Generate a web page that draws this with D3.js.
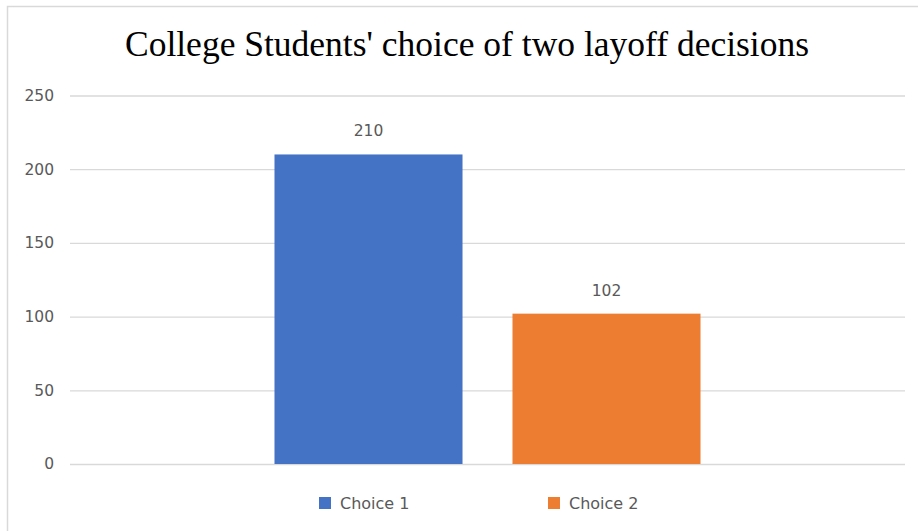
<!DOCTYPE html>
<html>
<head>
<meta charset="utf-8">
<script src="https://cdn.jsdelivr.net/npm/d3@7"></script>
<style>
  html, body { margin: 0; padding: 0; background: #fff; }
  svg { display: block; }
</style>
</head>
<body>
<svg id="chart" width="918" height="531"></svg>
<script>
const title = "College Students' choice of two layoff decisions";
const categories = [""];
const seriesNames = ["Choice 1", "Choice 2"];
const seriesValues = [210, 102];
const seriesColors = ["#4472C4", "#ED7D31"];
const yTicks = [0, 50, 100, 150, 200, 250];

const W = 918, H = 531;
const svg = d3.select("#chart");

// chart frame border
svg.append("path")
  .attr("d", `M7.5,${H} L7.5,6.5 L${W},6.5`)
  .attr("fill", "none")
  .attr("stroke", "#d9d9d9")
  .attr("stroke-width", 1.5);

const plot = { left: 70, right: 905, top: 95.5, bottom: 464 };

const y = d3.scaleLinear().domain([0, 250]).range([plot.bottom, plot.top]);
const x0 = d3.scaleBand().domain(categories).range([plot.left, plot.right])
  .paddingInner(0).paddingOuter(0.48);
const x1 = d3.scaleBand().domain(seriesNames).range([0, x0.bandwidth()])
  .paddingInner(0.21).paddingOuter(0);
const color = d3.scaleOrdinal().domain(seriesNames).range(seriesColors);

// gridlines + tick labels via axis
const yAxis = d3.axisLeft(y).tickValues(yTicks)
  .tickSize(-(plot.right - plot.left)).tickPadding(16).tickFormat(d3.format("d"));
const gAxis = svg.append("g").attr("transform", `translate(${plot.left},0)`).call(yAxis);
gAxis.select(".domain").remove();
gAxis.selectAll(".tick line").attr("stroke", "#d9d9d9").attr("stroke-width", 1.3);
gAxis.selectAll(".tick text")
  .attr("fill", "#595959")
  .attr("font-family", "DejaVu Sans, Verdana, sans-serif")
  .attr("font-size", 15.5);

// bars
const data = seriesNames.map((s, i) => ({ cat: categories[0], name: s, value: seriesValues[i] }));
const g = svg.append("g");
g.selectAll("rect").data(data).enter().append("rect")
  .attr("x", d => x0(d.cat) + x1(d.name))
  .attr("y", d => y(d.value))
  .attr("width", x1.bandwidth())
  .attr("height", d => y(0) - y(d.value))
  .attr("fill", d => color(d.name));

// data labels
g.selectAll("text.lbl").data(data).enter().append("text")
  .attr("class", "lbl")
  .attr("x", d => x0(d.cat) + x1(d.name) + x1.bandwidth() / 2)
  .attr("y", d => y(d.value) - 18)
  .attr("text-anchor", "middle")
  .attr("fill", "#595959")
  .attr("font-family", "DejaVu Sans, Verdana, sans-serif")
  .attr("font-size", 15.5)
  .text(d => d.value);

// title
svg.append("text")
  .attr("x", 467)
  .attr("y", 56)
  .attr("text-anchor", "middle")
  .attr("fill", "#000")
  .attr("font-family", "Liberation Serif, Times New Roman, serif")
  .attr("font-size", 35.5)
  .text(title);

// legend
const legendX = [319, 548];
const lg = svg.append("g");
seriesNames.forEach((s, i) => {
  lg.append("rect").attr("x", legendX[i]).attr("y", 497).attr("width", 12).attr("height", 12)
    .attr("fill", color(s));
  lg.append("text").attr("x", legendX[i] + 21).attr("y", 508.5)
    .attr("fill", "#595959")
    .attr("font-family", "DejaVu Sans, Verdana, sans-serif")
    .attr("font-size", 16)
    .text(s);
});
</script>
</body>
</html>
